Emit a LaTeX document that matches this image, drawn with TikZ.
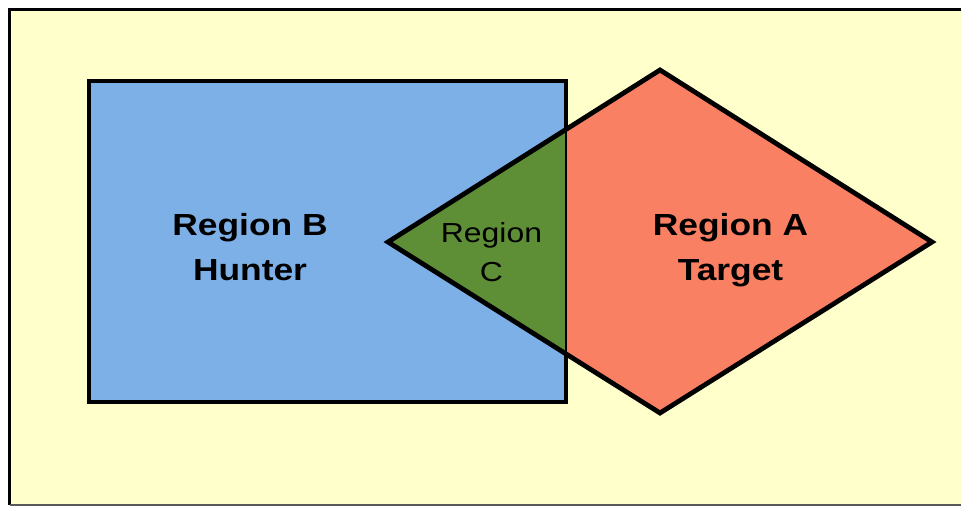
\documentclass[tikz,border=0pt]{standalone}
\usepackage{fontspec}
\setmainfont{Liberation Sans}
\newfontfamily\widesans[FakeStretch=1.16]{Liberation Sans}
\usepackage{tikz}
\usetikzlibrary{positioning}
\definecolor{paper}{HTML}{FFFFCC}
\definecolor{hunter}{HTML}{7DB0E6}
\definecolor{target}{HTML}{FA8064}
\definecolor{overlap}{HTML}{5E8F36}
\tikzset{
  basic/.style  = {align=center, text=black, inner sep=0pt},
  big/.style    = {basic, font=\widesans\bfseries\fontsize{30.5}{45}\selectfont},
  small/.style  = {basic, font=\widesans\fontsize{27.5}{39}\selectfont},
  outline/.style = {draw=black, line join=miter}
}

\begin{document}
\begin{tikzpicture}[x=1pt,y=-1pt]
  % page and frame
  \clip (0,0) rectangle (961,506);
  \fill[white] (0,0) rectangle (961,506);
  \fill[paper] (9.5,9.5) rectangle (975,504.5);
  \draw[black, line width=3pt] (975,9.5) -- (9.5,9.5) -- (9.5,504.5);
  \draw[gray!70!black, line width=2pt] (9.5,504.5) -- (975,504.5);

  % corners of the two regions
  \coordinate (bNW) at (89,81);
  \coordinate (bSE) at (566,402);
  \coordinate (aW) at (388,242);
  \coordinate (aN) at (660,70);
  \coordinate (aE) at (932,242);
  \coordinate (aS) at (660,413);

  % region B, region A, and their overlap
  \filldraw[outline, fill=hunter, line width=3.5pt] (bNW) rectangle (bSE);
  \fill[target] (aW) -- (aN) -- (aE) -- (aS) -- cycle;
  \begin{scope}
    \clip (aW) -- (aN) -- (aE) -- (aS) -- cycle;
    \fill[overlap] (bNW) rectangle (bSE);
    \draw[outline, line width=1.8pt] (bNW) rectangle (bSE);
  \end{scope}
  \draw[outline, line width=4.8pt] (aW) -- (aN) -- (aE) -- (aS) -- cycle;

  % labels
  \node[big] (hunter) at (250,247) {Region B\\Hunter};
  \node[big] (target) at (730.5,250) {Region A\\Target};
  \node[small] (both) at (491.5,252) {Region\\C};
\end{tikzpicture}
\end{document}
